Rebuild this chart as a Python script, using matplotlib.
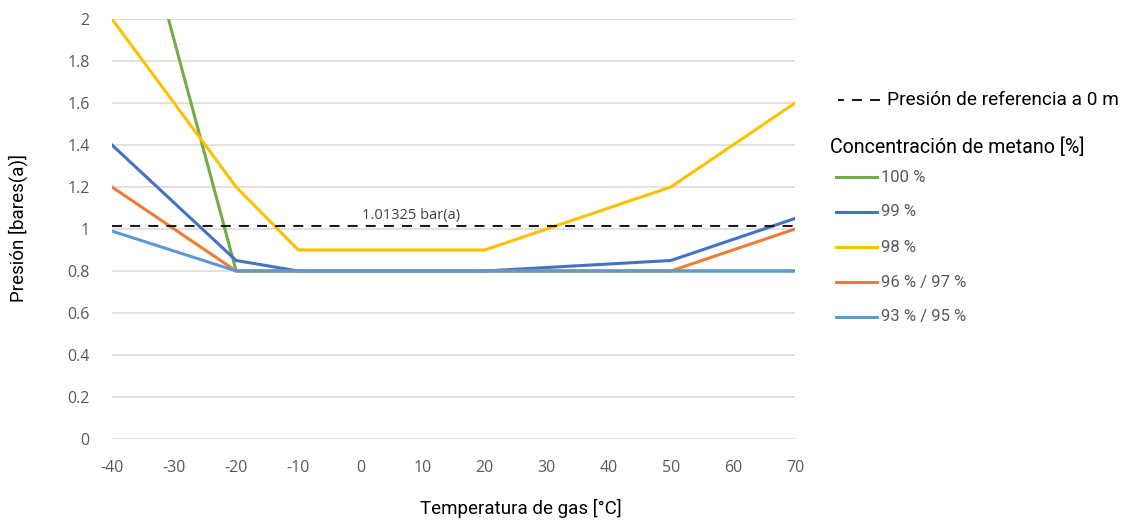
import matplotlib.pyplot as plt
from matplotlib.lines import Line2D

plt.rcParams['axes.unicode_minus'] = False

# datos
temps = [-40, -20, -10, 20, 50, 70]
p_100 = [3.0, 0.8, 0.8, 0.8, 0.8, 0.8]
p_99 = [1.4, 0.85, 0.8, 0.8, 0.85, 1.05]
p_98 = [2.0, 1.2, 0.9, 0.9, 1.2, 1.6]
p_96_97 = [1.2, 0.8, 0.8, 0.8, 0.8, 1.0]
p_93_95 = [0.99, 0.8, 0.8, 0.8, 0.8, 0.8]
p_ref = 1.01325

series_labels = ['100 %', '99 %', '98 %', '96 % / 97 %', '93 % / 95 %']
series_data = [p_100, p_99, p_98, p_96_97, p_93_95]
colors = ['#70AD47', '#4472C4', '#FFC000', '#ED7D31', '#5B9BD5']

x_ticks = list(range(-40, 71, 10))
y_ticks = [0, 0.2, 0.4, 0.6, 0.8, 1, 1.2, 1.4, 1.6, 1.8, 2]
y_ticklabels = ['0', '0.2', '0.4', '0.6', '0.8', '1', '1.2', '1.4', '1.6', '1.8', '2']

font_lbl = ['Roboto', 'DejaVu Sans']
font_tick = ['Open Sans', 'DejaVu Sans']

fig = plt.figure(figsize=(11.38, 5.22), dpi=100)
ax = fig.add_axes([112 / 1138, 1 - 439 / 522, (795 - 112) / 1138, (439 - 19) / 522])

for data, c in zip(series_data, colors):
    ax.plot(temps, data, color=c, linewidth=2.2, solid_joinstyle='miter', clip_on=True, zorder=3)

ax.axhline(p_ref, color='#1a1a1a', linewidth=1.5, zorder=4, linestyle=(0, (4.8, 3.9)))
ax.text(8.2, p_ref + 0.015, '1.01325 bar(a)', ha='center', va='bottom',
        fontsize=10.5, color='#404040', family=font_tick)

ax.set_xlim(-40, 70)
ax.set_ylim(0, 2)
ax.set_xticks(x_ticks)
ax.set_yticks(y_ticks)
ax.set_yticklabels(y_ticklabels)
ax.grid(axis='y', color='#d9d9d9', linewidth=1.1, zorder=0)
ax.set_axisbelow(True)
for s in ax.spines.values():
    s.set_visible(False)
ax.tick_params(length=0, labelsize=11.5, labelcolor='#595959')
ax.tick_params(axis='x', pad=15)
ax.tick_params(axis='y', pad=16)
for lab in ax.get_xticklabels() + ax.get_yticklabels():
    lab.set_family(font_tick)

fig.text(18 / 1138, 1 - 228 / 522, 'Presión [bares(a)]', rotation=90, ha='center', va='center',
         fontsize=13.5, color='#000000', family=font_lbl)
fig.text(521 / 1138, 1 - 508 / 522, 'Temperatura de gas [°C]', ha='center', va='center',
         fontsize=13.5, color='#000000', family=font_lbl)

# leyenda manual
W, H = 1138, 522
fig.add_artist(Line2D([838 / W, 880 / W], [1 - 100 / H, 1 - 100 / H], transform=fig.transFigure,
                      color='#1a1a1a', linewidth=1.5, linestyle=(2.0, (4.8, 3.9))))
fig.text(887 / W, 1 - 100 / H, 'Presión de referencia a 0 m', ha='left', va='center',
         fontsize=13.7, color='#000000', family=font_lbl)
fig.text(830 / W, 1 - 147 / H, 'Concentración de metano [%]', ha='left', va='center',
         fontsize=14.1, color='#000000', family=font_lbl)
for i, (lab, c) in enumerate(zip(series_labels, colors)):
    yy = 1 - (177 + 35 * i) / H
    fig.add_artist(Line2D([836 / W, 877 / W], [yy, yy], transform=fig.transFigure,
                          color=c, linewidth=2.2))
    fig.text(881 / W, yy, lab, ha='left', va='center', fontsize=12,
             color='#595959', family=font_lbl)

fig.savefig('out.png', dpi=100)
